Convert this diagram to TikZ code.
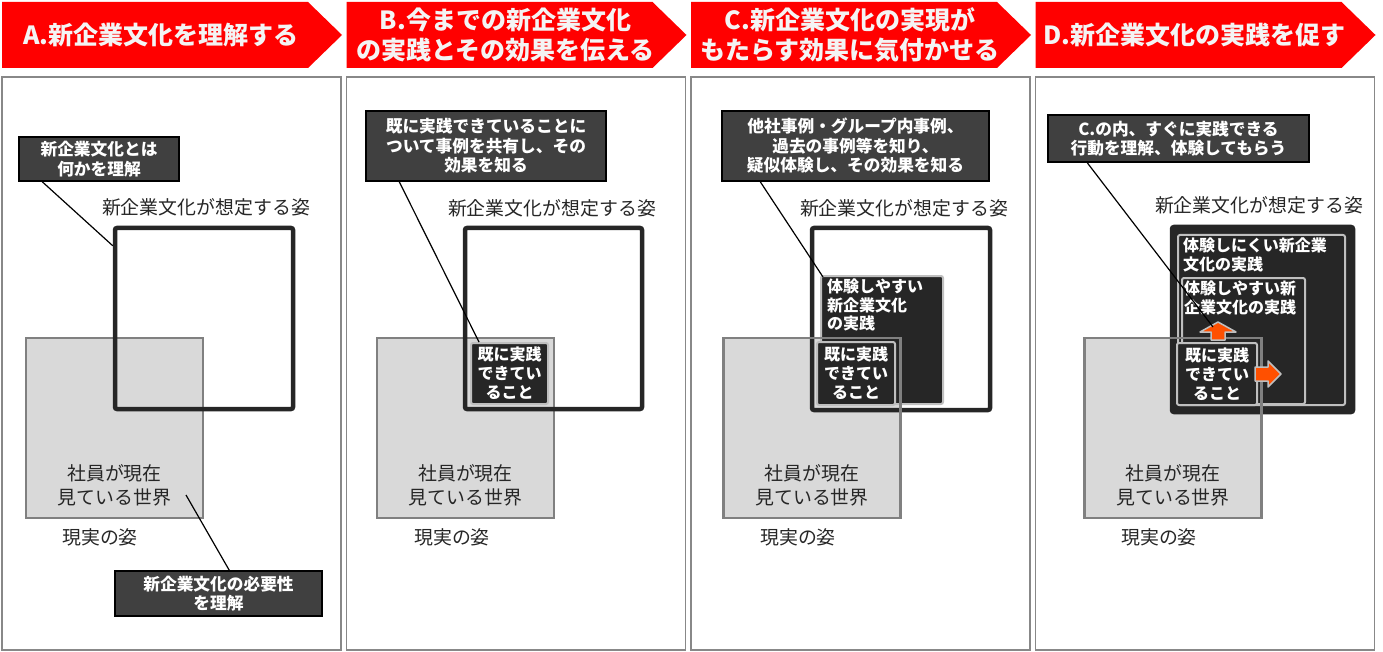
\documentclass[tikz,border=0pt]{standalone}
\usepackage{fontspec}
\setmainfont{Noto Sans CJK JP}
\usetikzlibrary{positioning}
\definecolor{hdred}{HTML}{FF0000}
\definecolor{hdtext}{HTML}{F4F4F4}
\definecolor{framecol}{HTML}{888888}
\definecolor{calloutcol}{HTML}{404040}
\definecolor{idealcol}{HTML}{262626}
\definecolor{realfill}{HTML}{D9D9D9}
\definecolor{realcol}{HTML}{808080}
\definecolor{boxedge}{HTML}{BFBFBF}
\definecolor{growcol}{HTML}{FF5000}
\tikzset{
    frame/.style={draw=framecol, line width=1.5pt},
    hdr/.style={text=hdtext, align=center, inner sep=0pt, font=\bfseries\fontsize{25}{30}\selectfont},
    callout/.style={draw=black, fill=calloutcol, line width=1.5pt, text=white, align=center, inner sep=0pt, font=\bfseries\fontsize{16.7}{19.5}\selectfont},
    ideal/.style={draw=idealcol, line width=4.5pt, rounded corners=2pt, inner sep=0pt},
    real/.style={draw=realcol, fill=realfill, line width=2.5pt, inner sep=0pt, outer sep=0pt, minimum width=177, minimum height=180},
    realline/.style={draw=realcol, line width=2.5pt},
    darkbox/.style={draw=boxedge, fill=idealcol, line width=2pt, rounded corners=2pt, inner sep=0pt, text=white, align=center, font=\bfseries\fontsize{16}{19}\selectfont},
    boxtext/.style={text=white, align=left, inner sep=0pt, anchor=north west, font=\bfseries\fontsize{16}{18.5}\selectfont},
    lbl/.style={text=black!85, align=center, inner sep=0pt, font=\fontsize{18.9}{24}\selectfont},
    pointer/.style={draw=black, line width=1.2pt},
    growarrow/.style={fill=growcol, draw=boxedge, line width=1.5pt, line join=round}
}
\begin{document}
\begin{tikzpicture}[x=1pt, y=-1pt]
    \useasboundingbox (0,0) rectangle (1383,652);

    % headers and panel frames
    \foreach \off/\p/\txt in {0/A/{A.新企業文化を理解する},
        344.5/B/{B.今までの新企業文化\\の実践とその効果を伝える},
        689/C/{C.新企業文化の実現が\\もたらす効果に気付かせる},
        1033.5/D/{D.新企業文化の実践を促す}}{
        \fill[hdred] (\off+2,2) -- (\off+308,2) -- (\off+342,35) -- (\off+308,68) -- (\off+2,68) -- cycle;
        \node[hdr] (hdr\p) at (\off+161,35) {\txt};
        \draw[frame] (\off+2,77) rectangle (\off+341,650);
    }

    % A
    \node[real] (realA) at (114.5,428) {};
    \node[ideal, minimum width=178, minimum height=181] (idealA) at (204,318.5) {};
    \node[lbl] (idealAtxt) at (206,207) {新企業文化が想定する姿};
    \node[lbl] (worldA) at (114.5,485) {社員が現在\\見ている世界};
    \node[lbl] (nowA) at (100,537) {現実の姿};
    \node[callout, minimum width=160, minimum height=44] (knowA) at (99,159) {新企業文化とは\\何かを理解};
    \node[callout, minimum width=207, minimum height=45] (needA) at (218.5,593.5) {新企業文化の必要性\\を理解};
    \draw[pointer] ([xshift=24pt]knowA.south west) -- ([yshift=-20pt]idealA.north west);
    \draw[pointer] ([xshift=115pt]needA.north west) -- ([xshift=-17pt,yshift=23pt]realA.south east);

    % B
    \node[real] (realB) at (465.5,428) {};
    \node[ideal, minimum width=177, minimum height=181] (idealB) at (553.5,318.5) {};
    \node[darkbox, minimum width=77, minimum height=61] (doneB) at (509.5,373.5) {既に実践\\できてい\\ること};
    \node[lbl] (idealBtxt) at (552,208) {新企業文化が想定する姿};
    \node[lbl] (worldB) at (465.5,485) {社員が現在\\見ている世界};
    \node[lbl] (nowB) at (452,537) {現実の姿};
    \node[callout, minimum width=240, minimum height=70] (shareB) at (486,146) {既に実践できていることに\\ついて事例を共有し、その\\効果を知る};
    \draw[pointer] ([xshift=34pt]shareB.south west) -- ([xshift=9pt]doneB.north west);

    % C
    \node[real] (realC) at (812,428) {};
    \node[ideal, minimum width=178, minimum height=182] (idealC) at (901,319) {};
    \node[darkbox, minimum width=122, minimum height=128] (easyC) at (882,340) {};
    \node[boxtext] (easyCtxt) at ([xshift=7pt,yshift=-4pt]easyC.north west) {体験しやすい\\新企業文化\\の実践};
    \draw[realline] (realC.north west) rectangle (realC.south east);
    \node[darkbox, minimum width=78, minimum height=63] (doneC) at (856,373.5) {既に実践\\できてい\\ること};
    \node[lbl] (idealCtxt) at (904,208) {新企業文化が想定する姿};
    \node[lbl] (worldC) at (812,485) {社員が現在\\見ている世界};
    \node[lbl] (nowC) at (798,537) {現実の姿};
    \node[callout, minimum width=267, minimum height=70] (caseC) at (855.5,146) {他社事例・グループ内事例、\\過去の事例等を知り、\\疑似体験し、その効果を知る};
    \draw[pointer] ([xshift=39pt]caseC.south west) -- ([xshift=3pt,yshift=-2pt]easyC.north west);

    % D
    \node[real] (realD) at (1173,428) {};
    \node[ideal, fill=idealcol, minimum width=181, minimum height=185] (idealD) at (1262.5,319.5) {};
    \node[darkbox, minimum width=167, minimum height=170] (hardD) at (1261.5,320) {};
    \node[boxtext] (hardDtxt) at ([xshift=6pt,yshift=-4pt]hardD.north west) {体験しにくい新企業\\文化の実践};
    \node[darkbox, minimum width=123, minimum height=126] (easyD) at (1243.5,341) {};
    \node[boxtext] (easyDtxt) at ([xshift=3pt,yshift=-4pt]easyD.north west) {体験しやすい新\\企業文化の実践};
    \draw[realline] (realD.north west) rectangle (realD.south east);
    \node[darkbox, minimum width=80, minimum height=62] (doneD) at (1217,374) {既に実践\\できてい\\ること};
    \draw[growarrow] (1211,340) -- (1211,332) -- (1200,332) -- (1218,322) -- (1236,332) -- (1225,332) -- (1225,340) -- cycle;
    \draw[growarrow] (1255,367) -- (1268,367) -- (1268,361) -- (1281,374) -- (1268,387) -- (1268,381) -- (1255,381) -- cycle;
    \node[lbl] (idealDtxt) at (1259,205) {新企業文化が想定する姿};
    \node[lbl] (worldD) at (1173,485) {社員が現在\\見ている世界};
    \node[lbl] (nowD) at (1159,537) {現実の姿};
    \node[callout, minimum width=261, minimum height=47] (tryD) at (1178.5,138.5) {C.の内、すぐに実践できる\\行動を理解、体験してもらう};
    \draw[pointer] ([xshift=40pt]tryD.south west) -- ([xshift=-4pt,yshift=15pt]doneD.north);
\end{tikzpicture}
\end{document}
